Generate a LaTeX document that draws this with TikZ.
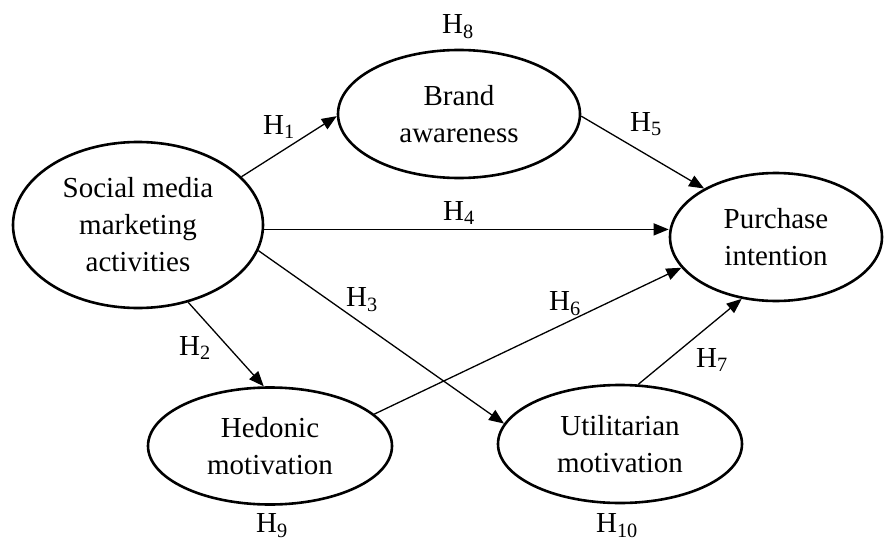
\documentclass[tikz,border=0pt]{standalone}
\usepackage{fontspec}
\setmainfont{Liberation Serif}
\usetikzlibrary{arrows.meta,shapes.geometric}
\tikzset{
  construct/.style={ellipse, draw, line width=2.6pt, inner sep=0pt, align=center,
    font=\fontsize{29}{37}\selectfont},
  hyp/.style={font=\fontsize{29}{37}\selectfont, inner sep=0pt},
  link/.style={line width=1.3pt, -{Triangle[length=15pt,width=12pt]}}
}
\begin{document}
\begin{tikzpicture}[x=1pt,y=-1pt]
\useasboundingbox (0,0) rectangle (886,543);
\node[construct, minimum width=250pt, minimum height=166pt] (smma) at (138,225) {Social media\\marketing\\activities};
\node[construct, minimum width=242pt, minimum height=128pt] (ba) at (459,114) {Brand\\awareness};
\node[construct, minimum width=212pt, minimum height=128pt] (pi) at (776,237) {Purchase\\intention};
\node[construct, minimum width=244pt, minimum height=117pt] (hm) at (270,446) {Hedonic\\motivation};
\node[construct, minimum width=244pt, minimum height=118pt] (um) at (620,444) {Utilitarian\\motivation};

\draw[link] (smma.25.7) -- (ba.181.4);
\draw[link] (ba.-1.5) -- (pi.146.5);
\draw[link] (smma.-2) -- (smma.-2 -| pi.west);
\draw[link] (smma.-12.7) -- (um.170);
\draw[link] (smma.-57.3) -- (hm.96.8);
\draw[link] (hm.17.4) -- (pi.198.6);
\draw[link] (um.73.9) -- (pi.241.6);

\node[hyp] (h1) at (279,127) {H\textsubscript{1}};
\node[hyp] (h2) at (195,348) {H\textsubscript{2}};
\node[hyp] (h3) at (362,300) {H\textsubscript{3}};
\node[hyp] (h4) at (459,213) {H\textsubscript{4}};
\node[hyp] (h5) at (646,124) {H\textsubscript{5}};
\node[hyp] (h6) at (565,304) {H\textsubscript{6}};
\node[hyp] (h7) at (712,360) {H\textsubscript{7}};
\node[hyp] (h8) at (458,27) {H\textsubscript{8}};
\node[hyp] (h9) at (272,526) {H\textsubscript{9}};
\node[hyp] (h10) at (617,526) {H\textsubscript{10}};
\end{tikzpicture}
\end{document}
